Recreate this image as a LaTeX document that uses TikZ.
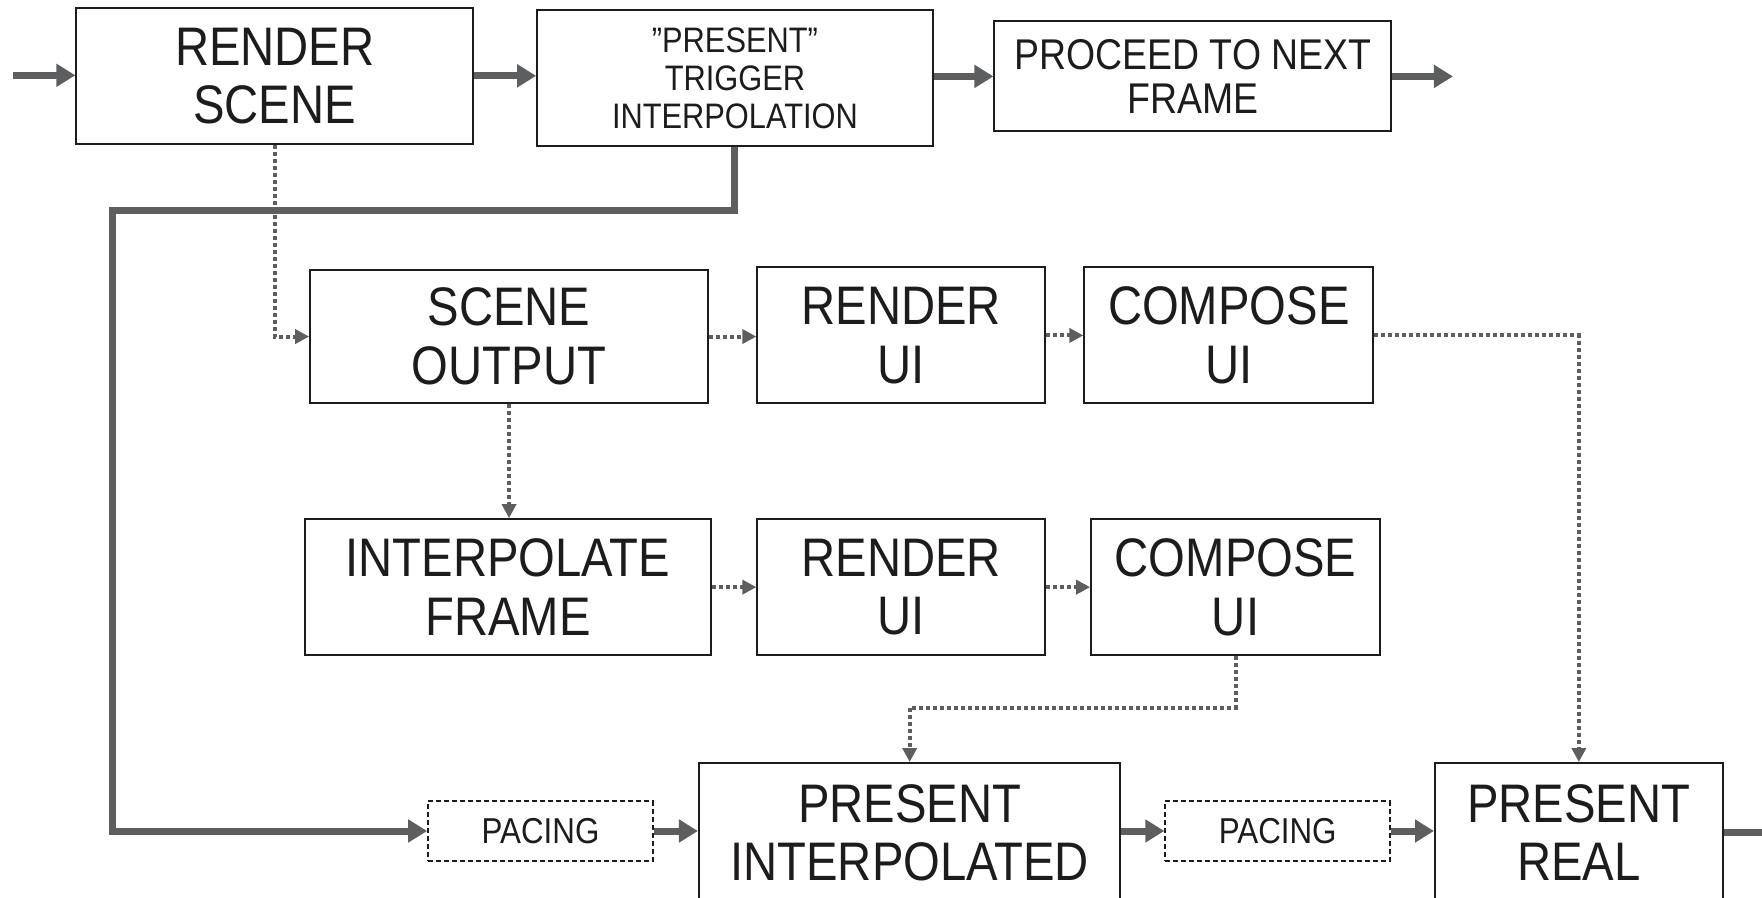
\documentclass[tikz,border=0pt]{standalone}
\usepackage{fontspec}
\setmainfont[FakeStretch=0.87]{Liberation Sans}
\usetikzlibrary{arrows.meta,calc}
\definecolor{conn}{HTML}{5D5E60}
\definecolor{ink}{HTML}{1E1B1C}
\begin{document}
\begin{tikzpicture}[x=1.1237pt,y=-1.1237pt,
  box/.style={draw=ink, line width=2pt, inner sep=0pt, align=center, text=ink},
  pbox/.style={box, dash pattern=on 5pt off 3pt, font=\fontsize{36}{40}\selectfont},
  big/.style={font=\fontsize{54.3}{58.5}\selectfont},
  small/.style={font=\fontsize{35.4}{38.2}\selectfont},
  mid/.style={font=\fontsize{43}{44}\selectfont},
  flow/.style={draw=conn, line width=7pt, -{Triangle[length=19pt,width=22pt]}},
  dotflow/.style={draw=conn, line width=4pt, dash pattern=on 4pt off 3pt, -{Triangle[length=14pt,width=14pt]}}
]
\useasboundingbox (0,0) rectangle (1568,799);
\clip (0,0) rectangle (1568,799);

% top row
\node[box,big,minimum width=396.7pt,minimum height=136pt] (rs) at (244.5,67.5) {RENDER\\SCENE};
\node[box,small,minimum width=395.5pt,minimum height=136pt] (pt) at (654,69.5) {”PRESENT”\\TRIGGER\\INTERPOLATION};
\node[box,mid,minimum width=396.7pt,minimum height=110.1pt] (pn) at (1061.5,68) {PROCEED TO NEXT\\FRAME};

% middle rows
\node[box,big,minimum width=397.8pt,minimum height=133.7pt] (so) at (453,299.5) {SCENE\\OUTPUT};
\node[box,big,minimum width=287.7pt,minimum height=136pt] (ru1) at (802,298.5) {RENDER\\UI};
\node[box,big,minimum width=288.8pt,minimum height=136pt] (cu1) at (1093.5,298.5) {COMPOSE\\UI};

\node[box,big,minimum width=406.8pt,minimum height=136pt] (if) at (452,522.5) {INTERPOLATE\\FRAME};
\node[box,big,minimum width=287.7pt,minimum height=136pt] (ru2) at (802,522.5) {RENDER\\UI};
\node[box,big,minimum width=288.8pt,minimum height=136pt] (cu2) at (1099.5,522.5) {COMPOSE\\UI};

% bottom row
\node[pbox,minimum width=224.7pt,minimum height=59.6pt] (pc1) at (481,739.5) {PACING};
\node[box,big,minimum width=421.4pt,minimum height=139.3pt] (pi) at (809.5,741) {PRESENT\\INTERPOLATED};
\node[pbox,minimum width=224.7pt,minimum height=59.6pt] (pc2) at (1137,739.5) {PACING};
\node[box,big,minimum width=287.7pt,minimum height=139.3pt] (pr) at (1405,741) {PRESENT\\REAL};

% free ends
\coordinate (in) at (12,67);
\coordinate (out1) at (1293,68);
\coordinate (out2) at (1590,741);
\coordinate (lp) at (100,187);
\coordinate (m2) at (809.5,630);

% thick flows
\draw[flow] (in) -- (rs.west |- in);
\draw[flow] (rs.east) -- (rs.east -| pt.west);
\draw[flow] (pn.west -| pt.east) -- (pn.west);
\draw[flow] (pn.east) -- (out1);
\draw[flow] (pt.south) |- (lp) |- (pc1.west);
\draw[flow] (pc1.east) -- (pc1.east -| pi.west);
\draw[flow] (pc2.west -| pi.east) -- (pc2.west);
\draw[flow] (pc2.east) -- (pc2.east -| pr.west);
\draw[flow] (pr.east) -- (out2);

% dotted flows
\draw[dotflow] (rs.south) |- (so.west);
\draw[dotflow] (so.east) -- (so.east -| ru1.west);
\draw[dotflow] (ru1.east) -- (cu1.west);
\draw[dotflow] (cu1.east) -| (pr.north);
\draw[dotflow] (so.south) -- (so.south |- if.north);
\draw[dotflow] (if.east) -- (if.east -| ru2.west);
\draw[dotflow] (ru2.east) -- (cu2.west);
\draw[dotflow] (cu2.south) |- (m2) -- (pi.north);
\end{tikzpicture}
\end{document}
